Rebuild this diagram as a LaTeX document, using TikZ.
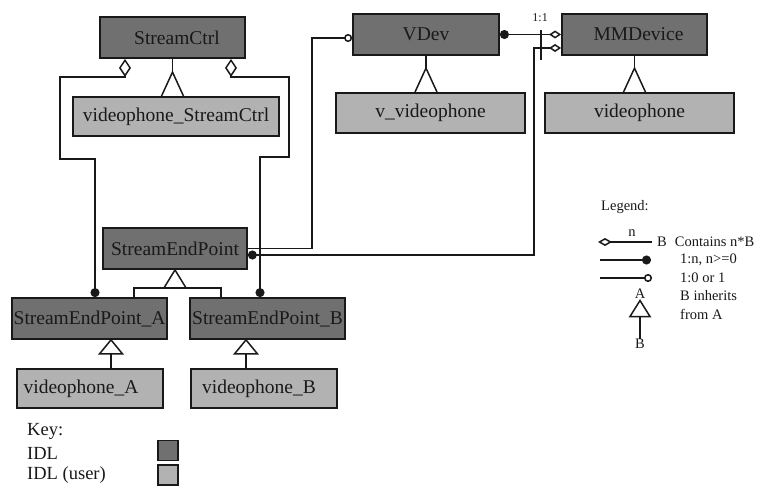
\documentclass[tikz,border=0pt]{standalone}
\usepackage{fontspec}
\setmainfont{Liberation Serif}
\usetikzlibrary{arrows.meta}
\definecolor{idl}{RGB}{112,112,112}
\definecolor{idluser}{RGB}{178,178,178}
\definecolor{ink}{RGB}{25,25,25}
\begin{document}
\begin{tikzpicture}[x=1pt,y=-1pt,
  cls/.style={draw=ink, line width=1.8pt, inner sep=0pt, text=ink,
    font=\fontsize{19.5}{22}\selectfont},
  idlbox/.style={cls, fill=idl},
  userbox/.style={cls, fill=idluser},
  conn/.style={draw=ink, line width=1.5pt},
  small/.style={text=ink, font=\fontsize{14.5}{16}\selectfont, inner sep=0pt},
  tiny/.style={text=ink, font=\fontsize{12}{14}\selectfont, inner sep=0pt},
  keytext/.style={text=ink, font=\fontsize{18.5}{21}\selectfont, inner sep=0pt, anchor=west},
  swatch/.style={draw=ink, line width=1.5pt, minimum width=20pt, minimum height=20pt, inner sep=0pt},
]
\useasboundingbox (0,0) rectangle (760,487);

% ---- classes ----
\node[idlbox, minimum width=145pt, minimum height=41pt] (sc) at (172.5,37.5) {\hspace*{9pt}StreamCtrl};
\node[userbox, minimum width=206pt, minimum height=39pt] (vsc) at (176,116.5) {videophone\_StreamCtrl};
\node[idlbox, minimum width=146pt, minimum height=41pt] (vdev) at (426,34.5) {VDev};
\node[userbox, minimum width=189pt, minimum height=40pt] (vvp) at (430.5,113) {v\_videophone};
\node[idlbox, minimum width=145pt, minimum height=41pt] (mm) at (634.5,34.5) {\hspace*{8pt}MMDevice};
\node[userbox, minimum width=189pt, minimum height=40pt] (vp) at (639.5,113) {videophone};
\node[idlbox, minimum width=144pt, minimum height=41pt] (sep) at (175,248.5) {StreamEndPoint};
\node[idlbox, minimum width=155pt, minimum height=41pt] (sepa) at (89.5,318.5) {StreamEndPoint\_A};
\node[idlbox, minimum width=155pt, minimum height=41pt] (sepb) at (267.5,318.5) {StreamEndPoint\_B};
\node[userbox, minimum width=146pt, minimum height=39pt] (vpa) at (90,388.5) {\hspace*{-18pt}videophone\_A};
\node[userbox, minimum width=146pt, minimum height=39pt] (vpb) at (264,388.5) {\hspace*{-10pt}videophone\_B};

% ---- inheritance, triangle resting on the subclass ----
\foreach \sup/\sub in {sc/vsc, vdev/vvp, mm/vp}{
  \draw[conn] (\sup.south) -- ([yshift=24pt]\sub.north -| \sup.south);
  \draw[conn, line join=miter] (\sub.north -| \sup.south) ++(-11,0) -- ++(11,-24) -- ++(11,24);
}

% ---- StreamEndPoint specialisations ----
\draw[conn, line join=miter] (sep.south) -- ++(-11,18) -- ++(22,0) -- cycle;
\draw[conn] ([xshift=44.5pt]sepa.north) |- ([yshift=-18pt]sep.south) -| ([xshift=-46.5pt]sepb.north);

% ---- videophone_A / videophone_B ----
\coordinate (apexa) at ([xshift=21.5pt]sepa.south);
\coordinate (apexb) at ([xshift=-21.5pt]sepb.south);
\draw[conn, line join=miter] (apexa) -- ++(-11.5,14) -- ++(23,0) -- cycle;
\draw[conn] ([yshift=-14pt]apexa) -- (vpa.north -| apexa);
\draw[conn, line join=miter] (apexb) -- ++(-11.5,14) -- ++(23,0) -- cycle;
\draw[conn] ([yshift=-14pt]apexb) -- (vpb.north -| apexb);

% ---- StreamCtrl aggregates the two end points ----
\draw[conn, {Diamond[open,length=18pt,width=12pt]}-{Circle[length=9pt]}]
  ([xshift=-47.5pt]sc.south) -- ++(0,18) -- ++(-65,0) -- ++(0,82) -- ++(35,0) -- ([xshift=5.5pt]sepa.north);
\draw[conn, {Diamond[open,length=18pt,width=12pt]}-{Circle[length=9pt]}]
  ([xshift=58.5pt]sc.south) -- ++(0,18) -- ++(58,0) -- ++(0,80) -- ++(-29,0) -- ([xshift=-7.5pt]sepb.north);

% ---- StreamEndPoint to VDev and MMDevice ----
\draw[conn, -{Circle[open,length=8pt]}]
  (sep.east) -- ++(64,0) |- ([yshift=-3.5pt]vdev.west);
\draw[conn, {Circle[length=9pt]}-{Diamond[open,length=12pt,width=8pt]}]
  ([yshift=-6.5pt]sep.east) -- ++(286,0) |- ([yshift=-13.5pt]mm.west);

% ---- VDev to MMDevice, 1:1 ----
\draw[conn, {Circle[length=9pt]}-{Diamond[open,length=12pt,width=8pt]}] (vdev.east) -- (mm.west);
\draw[conn] ([xshift=-20pt,yshift=4pt]mm.west) -- ++(0,30);
\node[tiny] (oneone) at ([xshift=-21pt,yshift=17pt]mm.west) {1:1};

% ---- legend ----
\node[small, anchor=west] (leg) at (601,207) {Legend:};
\coordinate (l1a) at (598,242);
\coordinate (l1b) at (652,242);
\draw[conn, {Diamond[open,length=14pt,width=8pt]}-] (l1a) -- (l1b);
\node[small] (ln) at (632,233) {n};
\node[small, anchor=west] (lt1) at (657,242) {B\hspace{8pt}Contains n*B};
\coordinate (l2a) at (600,260);
\coordinate (l2b) at (651,260);
\draw[conn, -{Circle[length=9pt]}] (l2a) -- (l2b);
\node[small, anchor=west] (lt2) at (680,260) {1:n, n>=0};
\coordinate (l3a) at (600,278);
\coordinate (l3b) at (652,278);
\draw[conn, -{Circle[open,length=8pt]}] (l3a) -- (l3b);
\node[small, anchor=west] (lt3) at (680,278) {1:0 or 1};
\node[small] (lA) at (640,294) {A};
\coordinate (ltri) at (640,300.5);
\draw[conn, line join=miter] (ltri) -- ++(-10,16) -- ++(20,0) -- cycle;
\node[small] (lB) at (640,344) {B};
\draw[conn] ([yshift=-16pt]ltri) -- (lB.north);
\node[small, anchor=west] (lt4) at (680,296) {B inherits};
\node[small, anchor=west] (lt5) at (680,314) {from A};

% ---- key ----
\node[keytext] (key) at (27,431) {Key:};
\node[keytext] (k1) at (27,453) {IDL};
\node[keytext] (k2) at (27,475) {IDL (user)};
\node[swatch, fill=idl] (s1) at (168,450.5) {};
\node[swatch, fill=idluser] (s2) at (168,475) {};
\end{tikzpicture}
\end{document}
